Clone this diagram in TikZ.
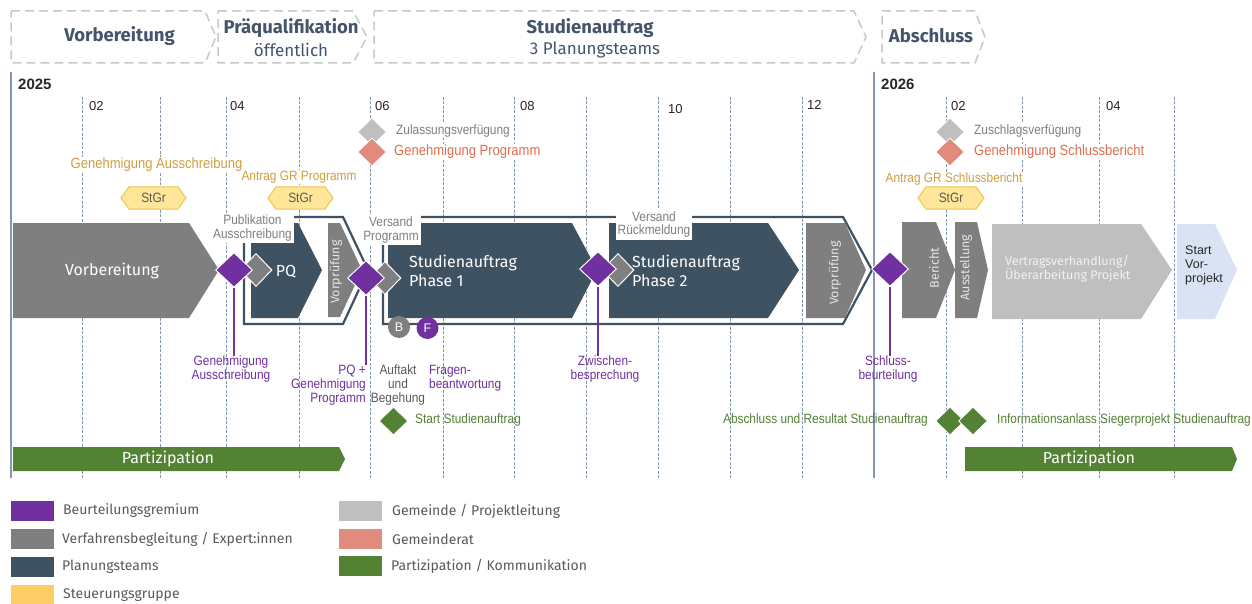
\documentclass[tikz,border=0pt]{standalone}
\usepackage{fontspec}
\setmainfont{Fira Sans}
\newfontfamily\arialf{Liberation Sans}
\newfontfamily\narrowf[FakeStretch=0.88]{Liberation Sans}
\usetikzlibrary{shapes.geometric}
\definecolor{cSlate}{HTML}{3E5262}
\definecolor{cGray}{HTML}{7F7F7F}
\definecolor{cLight}{HTML}{BFBFBF}
\definecolor{cPurple}{HTML}{7030A0}
\definecolor{cGreen}{HTML}{548235}
\definecolor{cGreenTxt}{HTML}{538135}
\definecolor{cSalmon}{HTML}{E08B7E}
\definecolor{cSalmonTxt}{HTML}{DE6E4E}
\definecolor{cGold}{HTML}{CF9F3C}
\definecolor{cYellow}{HTML}{FFE699}
\definecolor{cYellowDk}{HTML}{F2C24E}
\definecolor{cLegYellow}{HTML}{FFCD66}
\definecolor{cBlue}{HTML}{DAE3F3}
\definecolor{cGrid}{HTML}{8497B0}
\definecolor{cHdr}{HTML}{C8C8C8}
\definecolor{cHdrTxt}{HTML}{44546A}
\definecolor{cDark}{HTML}{262626}
\definecolor{cMid}{HTML}{595959}
\begin{document}
\begin{tikzpicture}[x=1pt,y=-1pt,line join=miter,
  hdr/.style={draw=cHdr,line width=1.5pt,dash pattern=on 9pt off 5pt},
  hdrbold/.style={text=cHdrTxt,font=\bfseries\fontsize{18.5}{20}\selectfont,inner sep=0pt},
  hdrreg/.style={text=cHdrTxt,font=\fontsize{17}{19}\selectfont,inner sep=0pt},
  gridln/.style={draw=cGrid,line width=0.9pt,dash pattern=on 3pt off 1.5pt},
  yearln/.style={draw=cGrid,line width=1.6pt},
  yeartxt/.style={text=cDark,font=\arialf\bfseries\fontsize{15}{17}\selectfont,anchor=west,inner sep=0pt},
  monthtxt/.style={text=cDark,font=\arialf\fontsize{13}{15}\selectfont,anchor=west,inner sep=0pt},
  outl/.style={draw=cSlate,line width=2.2pt},
  shapetxt/.style={text=white,font=\fontsize{16}{19}\selectfont,inner sep=0pt,align=left},
  rottxt/.style={text=white!90!black,font=\fontsize{12.5}{14}\selectfont,rotate=90,inner sep=0pt},
  boxlbl/.style={fill=white,text=cGray,font=\narrowf\fontsize{13.5}{13.5}\selectfont,align=center,inner sep=2pt},
  toplbl/.style={fill=white,font=\narrowf\fontsize{13.5}{15}\selectfont,inner sep=1pt},
  biglbl/.style={toplbl,font=\narrowf\fontsize{14.8}{16}\selectfont},
  lowlbl/.style={font=\narrowf\fontsize{13.5}{14}\selectfont,inner sep=0pt},
  pdia/.style={diamond,fill=cPurple,draw=white,line width=1pt,minimum width=37pt,minimum height=35pt,inner sep=0pt},
  gdia/.style={diamond,fill=cGray,draw=white,line width=1pt,minimum width=32pt,minimum height=33pt,inner sep=0pt},
  smalldia/.style={diamond,draw=white,line width=0.8pt,minimum width=29pt,minimum height=28pt,inner sep=0pt},
  stem/.style={draw=cPurple,line width=2.2pt},
  stgr/.style={fill=cYellow,draw=cYellowDk,line width=1pt},
  stgrtxt/.style={text=cMid,font=\narrowf\fontsize{13.5}{14}\selectfont,inner sep=0pt},
  partbar/.style={fill=cGreen},
  parttxt/.style={text=white,font=\fontsize{16}{18}\selectfont,inner sep=0pt},
  legtxt/.style={text=cMid,font=\fontsize{14}{16}\selectfont,anchor=west,inner sep=0pt}
]
\useasboundingbox (0,0) rectangle (1252,604);

% ---------- phase header ----------
\draw[hdr] (11,11) -- (205,11) -- (216,37) -- (205,63) -- (11,63) -- cycle;
\draw[hdr] (218,11) -- (353,11) -- (367,37) -- (353,63) -- (218,63) -- cycle;
\draw[hdr] (374,11) -- (854,11) -- (866,37) -- (854,63) -- (374,63) -- cycle;
\draw[hdr] (882,11) -- (975,11) -- (985,37) -- (975,63) -- (882,63) -- cycle;
\node[hdrbold] (h1) at (119.5,36) {Vorbereitung};
\node[hdrbold] (h2) at (291,28) {Präqualifikation};
\node[hdrreg]  (h2b) at (291,50) {öffentlich};
\node[hdrbold] (h3) at (590,28) {Studienauftrag};
\node[hdrreg]  (h3b) at (595,50) {3 Planungsteams};
\node[hdrbold] (h4) at (931,36) {Abschluss};

% ---------- time grid ----------
\foreach \x in {82,160,226,299,370,443,514,586,658,730,802,946,1022,1099,1174}
  \draw[gridln] (\x,97) -- (\x,478);
\draw[yearln] (11,72) -- (11,478);
\draw[yearln] (874,72) -- (874,478);
\node[yeartxt] (y25) at (18,84) {2025};
\node[yeartxt] (y26) at (881,84) {2026};
\node[monthtxt] (m1) at (89,106) {02};
\node[monthtxt] (m2) at (230,106) {04};
\node[monthtxt] (m3) at (375,106) {06};
\node[monthtxt] (m4) at (520,106) {08};
\node[monthtxt] (m5) at (668,109) {10};
\node[monthtxt] (m6) at (807,105) {12};
\node[monthtxt] (m7) at (951,106) {02};
\node[monthtxt] (m8) at (1106,106) {04};

% ---------- decisions above the timeline ----------
\node[smalldia,fill=cLight] (zv) at (372,132) {};
\node[smalldia,fill=cSalmon] (gp) at (372,152) {};
\node[toplbl,text=cGray,anchor=west] (zvt) at (395,131) {Zulassungsverfügung};
\node[biglbl,text=cSalmonTxt,anchor=west] (gpt) at (393,152) {Genehmigung Programm};
\node[smalldia,fill=cLight] (zs) at (950,132) {};
\node[smalldia,fill=cSalmon] (gs) at (950,152) {};
\node[toplbl,text=cGray,anchor=west] (zst) at (973,131) {Zuschlagsverfügung};
\node[biglbl,text=cSalmonTxt,anchor=west] (gst) at (973,152) {Genehmigung Schlussbericht};

\node[biglbl,text=cGold] (ga) at (156.5,165) {Genehmigung Ausschreibung};
\node[toplbl,text=cGold] (agp) at (299,177) {Antrag GR Programm};
\node[toplbl,text=cGold] (ags) at (954,179) {Antrag GR Schlussbericht};

% steering group hexagons
\draw[stgr] (121,198) -- (129,187) -- (178,187) -- (186,198) -- (178,209) -- (129,209) -- cycle;
\node[stgrtxt] (s1) at (153.5,198) {StGr};
\draw[stgr] (268,198) -- (276,187) -- (325,187) -- (333,198) -- (325,209) -- (276,209) -- cycle;
\node[stgrtxt] (s2) at (300.5,198) {StGr};
\draw[stgr] (918,198) -- (926,187) -- (976,187) -- (984,198) -- (976,209) -- (926,209) -- cycle;
\node[stgrtxt] (s3) at (951,198) {StGr};

% ---------- process chevrons ----------
\fill[cGray]  (13,223) -- (189,223) -- (219,270) -- (189,318) -- (13,318) -- cycle;
\fill[cSlate] (251,223) -- (298,223) -- (322,270) -- (298,318) -- (251,318) -- cycle;
\fill[cGray]  (328,223) -- (340,223) -- (362,270) -- (340,317) -- (328,317) -- cycle;
\fill[cSlate] (388,223) -- (572,223) -- (597,270) -- (572,318) -- (388,318) -- cycle;
\fill[cSlate] (609,223) -- (768,223) -- (799,270) -- (768,318) -- (609,318) -- cycle;
\fill[cGray]  (806,223) -- (845,223) -- (866,270) -- (845,318) -- (806,318) -- cycle;
\fill[cGray]  (902,222) -- (936,222) -- (955,270) -- (936,318) -- (902,318) -- cycle;
\fill[cGray]  (955,222) -- (977,222) -- (988,270) -- (977,318) -- (955,318) -- cycle;
\fill[cLight] (992,224) -- (1141,224) -- (1172,270) -- (1141,319) -- (992,319) -- cycle;
\fill[cBlue]  (1177,224) -- (1215,224) -- (1237,270) -- (1215,319) -- (1177,319) -- cycle;

% frames around the team phases
\draw[outl] (244,217) -- (343,217) -- (368,270) -- (343,324) -- (244,324) -- cycle;
\draw[outl] (383,217) -- (843,217) -- (872,270) -- (843,324) -- (383,324) -- cycle;

% labels on the frames
\node[boxlbl] (pub) at (252.5,228) {Publikation\\Ausschreibung};
\node[boxlbl] (vp) at (391,230) {Versand\\Programm};
\node[boxlbl] (vr) at (654,224.5) {Versand\\Rückmeldung};

% texts inside the chevrons
\node[shapetxt] (tv) at (112,271) {Vorbereitung};
\node[shapetxt] (tpq) at (286,272) {PQ};
\node[shapetxt,anchor=west] (tp1) at (409,271) {Studienauftrag\\Phase 1};
\node[shapetxt,anchor=west] (tp2) at (632,271) {Studienauftrag\\Phase 2};
\node[rottxt] (vp1) at (336,272) {Vorprüfung};
\node[rottxt] (vp2) at (835,273) {Vorprüfung};
\node[rottxt] (ber) at (934,268) {Bericht};
\node[rottxt] (aus) at (966,267.5) {Ausstellung};
\node[text=white!95!black,font=\fontsize{12.5}{14}\selectfont,anchor=west,align=left,inner sep=0pt] (vv) at (1005,269) {Vertragsverhandlung/\\Überarbeitung Projekt};
\node[text=cDark,font=\arialf\fontsize{12.5}{14}\selectfont,anchor=west,align=left,inner sep=0pt] (sv) at (1185,265) {Start\\Vor-\\projekt};

% ---------- milestones of the jury ----------
\node[gdia] (g1) at (256,270) {};
\node[gdia] (g2) at (385,278) {};
\node[gdia] (g3) at (618,270) {};
\node[pdia] (d1) at (234,270) {};
\node[pdia] (d2) at (366,278) {};
\node[pdia] (d3) at (598,269) {};
\node[pdia] (d4) at (890,269) {};

\node[circle,fill=cGray,minimum size=22pt,inner sep=0pt,text=white,font=\arialf\fontsize{12.5}{14}\selectfont] (cb) at (399,327) {B};
\node[circle,fill=cPurple,minimum size=22pt,inner sep=0pt,text=white,font=\arialf\fontsize{12.5}{14}\selectfont] (cf) at (427.5,328) {F};

\node[lowlbl,text=cPurple,align=center] (l1) at (231,369.5) {Genehmigung\\Ausschreibung};
\node[lowlbl,text=cPurple,align=right,anchor=east] (l2) at (366,385) {PQ +\\Genehmigung\\Programm};
\node[lowlbl,text=cMid,align=center] (l3) at (398,385) {Auftakt\\und\\Begehung};
\node[lowlbl,text=cPurple,align=left,anchor=west] (l4) at (429,378) {Fragen-\\beantwortung};
\node[lowlbl,text=cPurple,align=center] (l5) at (605,369.5) {Zwischen-\\besprechung};
\node[lowlbl,text=cPurple,align=center] (l6) at (888,369) {Schluss-\\beurteilung};

\draw[stem] (d1.south) -- (d1 |- l1.north);
\draw[stem] (d2.south) -- (d2 |- l2.north);
\draw[stem] (d3.south) -- (d3 |- l5.north);
\draw[stem] (d4.south) -- (d4 |- l6.north);

% ---------- communication ----------
\node[smalldia,fill=cGreen] (st) at (393.5,421) {};
\node[lowlbl,text=cGreenTxt,anchor=west] (stt) at (415,420) {Start Studienauftrag};
\node[smalldia,fill=cGreen] (ab1) at (950,421) {};
\node[smalldia,fill=cGreen] (ab2) at (973,421) {};
\node[lowlbl,text=cGreenTxt,anchor=east] (abt) at (928,420) {Abschluss und Resultat Studienauftrag};
\node[lowlbl,text=cGreenTxt,anchor=west] (inf) at (997,420) {Informationsanlass Siegerprojekt Studienauftrag};

\fill[partbar] (13,447) -- (339,447) -- (345,459) -- (339,471) -- (13,471) -- cycle;
\node[parttxt] (p1) at (168,459) {Partizipation};
\fill[partbar] (965,447) -- (1232,447) -- (1237,459) -- (1232,471) -- (965,471) -- cycle;
\node[parttxt] (p2) at (1089,459) {Partizipation};

% ---------- legend ----------
\fill[cPurple] (11,501) rectangle (54,521);
\node[legtxt] (lg1) at (63,511) {Beurteilungsgremium};
\fill[cGray] (11,529) rectangle (54,549);
\node[legtxt] (lg2) at (62,539) {Verfahrensbegleitung / Expert:innen};
\fill[cSlate] (11,557) rectangle (54,577);
\node[legtxt] (lg3) at (62,567) {Planungsteams};
\fill[cLegYellow] (11,585) rectangle (54,605);
\node[legtxt] (lg4) at (63,595) {Steuerungsgruppe};
\fill[cLight] (339,501) rectangle (382,521);
\node[legtxt] (lg5) at (392,511) {Gemeinde / Projektleitung};
\fill[cSalmon] (339,529) rectangle (382,549);
\node[legtxt] (lg6) at (392,539) {Gemeinderat};
\fill[cGreen] (339,556) rectangle (382,576);
\node[legtxt] (lg7) at (391,566) {Partizipation / Kommunikation};
\end{tikzpicture}
\end{document}
